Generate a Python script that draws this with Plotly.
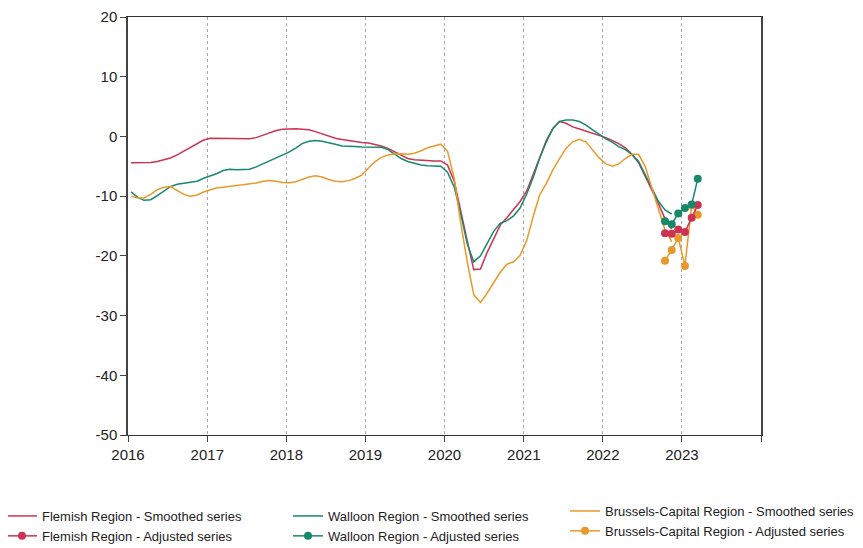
import pandas as pd
import plotly.graph_objects as go

# Monthly smoothed series, Jan 2016 .. Nov 2022 (plotted mid-month)
smooth_months = (pd.date_range("2016-01-01", "2022-11-01", freq="MS") + pd.Timedelta(days=14))

flemish_smoothed = [
    -4.4, -4.4, -4.4, -4.35, -4.2, -3.9, -3.6, -3.1, -2.5, -1.9, -1.2, -0.6,
    -0.3, -0.3, -0.4, -0.4, -0.4, -0.4, -0.4, -0.2, 0.2, 0.6, 1.0, 1.2,
    1.3, 1.3, 1.2, 1.1, 0.8, 0.4, 0.1, -0.3, -0.5, -0.7, -0.8, -1.0,
    -1.1, -1.3, -1.6, -2.0, -2.6, -3.2, -3.7, -3.9, -4.0, -4.0, -4.1, -4.1,
    -4.8, -7.5, -12.5, -17.5, -22.3, -22.2, -19.5, -17.0, -14.8, -13.6, -12.3, -10.9,
    -9.1, -6.2, -3.4, -0.7, 1.35, 2.5, 2.2, 1.6, 1.25, 0.9, 0.5, 0.2,
    -0.2, -0.7, -1.2, -1.9, -3.0, -4.4, -6.6, -8.8, -11.3, -13.8, -15.5,
]
walloon_smoothed = [
    -9.3, -10.2, -10.7, -10.6, -9.9, -9.1, -8.4, -8.0, -7.8, -7.7, -7.5, -7.0,
    -6.6, -6.2, -5.7, -5.5, -5.6, -5.6, -5.5, -5.1, -4.6, -4.1, -3.7, -3.2,
    -2.6, -1.9, -1.2, -0.8, -0.7, -0.8, -1.0, -1.3, -1.6, -1.7, -1.7, -1.75,
    -1.8, -1.8, -1.8, -2.2, -3.0, -3.7, -4.2, -4.5, -4.8, -4.9, -5.0, -5.0,
    -6.0, -8.5, -12.8, -18.0, -21.0, -20.0, -18.0, -15.9, -14.5, -14.1, -13.3, -12.0,
    -9.6, -6.7, -3.7, -0.9, 1.3, 2.5, 2.75, 2.75, 2.5, 1.9, 1.1, 0.3,
    -0.4, -1.0, -1.7, -2.2, -3.0, -4.2, -6.3, -8.5, -10.9, -12.3, -13.0,
]
brussels_smoothed = [
    -10.0, -10.3, -10.3, -9.7, -8.9, -8.5, -8.4, -9.0, -9.7, -10.0, -9.8, -9.3,
    -8.9, -8.6, -8.5, -8.3, -8.2, -8.1, -8.0, -7.8, -7.5, -7.4, -7.5, -7.7,
    -7.75, -7.6, -7.2, -6.8, -6.6, -6.8, -7.2, -7.5, -7.6, -7.4, -7.0, -6.5,
    -5.3, -4.2, -3.5, -3.1, -2.95, -2.9, -3.0, -2.8, -2.4, -1.9, -1.6, -1.3,
    -2.5, -7.0, -14.3, -21.0, -26.5, -27.8, -26.3, -24.6, -22.7, -21.4, -21.0, -19.9,
    -17.4, -13.2, -9.8, -7.9, -5.6, -3.7, -2.0, -0.9, -0.5, -0.9, -2.3, -3.6,
    -4.6, -5.0, -4.6, -3.7, -3.0, -3.0, -5.0, -8.6, -12.5, -15.7, -17.6,
]

# Adjusted series, Oct 2022 .. Mar 2023 (plotted mid-month)
adj_months = (pd.date_range("2022-10-01", "2023-03-01", freq="MS") + pd.Timedelta(days=14))
flemish_adjusted = [-16.2, -16.3, -15.6, -16.0, -13.6, -11.5]
walloon_adjusted = [-14.2, -14.7, -12.9, -12.0, -11.4, -7.1]
brussels_adjusted = [-20.8, -19.0, -17.0, -21.7, -11.5, -13.1]

year_ticks = [f"{y}-01-01" for y in range(2016, 2025)]
year_labels = [str(y) for y in range(2016, 2024)] + [""]
y_ticks = [20, 10, 0, -10, -20, -30, -40, -50]
y_labels = ["20", "10", "0", "-10", "-20", "-30", "-40", "-50"]

RED = "#CC3352"
GREEN = "#17896A"
ORANGE = "#E9992A"

fig = go.Figure()
fig.add_trace(go.Scatter(x=smooth_months, y=flemish_smoothed, mode="lines",
                         line=dict(color=RED, width=1.5), legend="legend", legendgroup="fs",
                         name="Flemish Region - Smoothed series"))
fig.add_trace(go.Scatter(x=smooth_months, y=walloon_smoothed, mode="lines",
                         line=dict(color=GREEN, width=1.5), legend="legend2", legendgroup="ws",
                         name="Walloon Region - Smoothed series"))
fig.add_trace(go.Scatter(x=smooth_months, y=brussels_smoothed, mode="lines",
                         line=dict(color=ORANGE, width=1.5), legend="legend3", legendgroup="bs",
                         name="Brussels-Capital Region - Smoothed series"))
fig.add_trace(go.Scatter(x=adj_months, y=brussels_adjusted, mode="lines+markers",
                         line=dict(color=ORANGE, width=1.5), marker=dict(size=8, color=ORANGE),
                         legend="legend3", legendgroup="ba",
                         name="Brussels-Capital Region - Adjusted series"))
fig.add_trace(go.Scatter(x=adj_months, y=flemish_adjusted, mode="lines+markers",
                         line=dict(color=RED, width=1.5), marker=dict(size=8, color=RED),
                         legend="legend", legendgroup="fa",
                         name="Flemish Region - Adjusted series"))
fig.add_trace(go.Scatter(x=adj_months, y=walloon_adjusted, mode="lines+markers",
                         line=dict(color=GREEN, width=1.5), marker=dict(size=8, color=GREEN),
                         legend="legend2", legendgroup="wa",
                         name="Walloon Region - Adjusted series"))

# figure coordinates (the page adds an 8px body margin)
FIG_W, FIG_H = 855, 540
PLOT_L, PLOT_R, PLOT_T, PLOT_B = 120, 753, 9, 427
PW, PH = PLOT_R - PLOT_L, PLOT_B - PLOT_T


def px_x(px):
    return (px - PLOT_L) / PW


def px_y(py):
    return (PLOT_B - py) / PH


legend_font = dict(family="Liberation Sans, Arial, sans-serif", size=13, color="#222")
common = dict(orientation="v", yanchor="top", traceorder="normal",
              bgcolor="rgba(0,0,0,0)", font=legend_font, tracegroupgap=5)

fig.update_layout(
    width=FIG_W, height=FIG_H,
    margin=dict(l=PLOT_L, r=FIG_W - PLOT_R, t=PLOT_T, b=FIG_H - PLOT_B, autoexpand=False),
    paper_bgcolor="white", plot_bgcolor="white",
    font=dict(family="Liberation Sans, Arial, sans-serif", size=15, color="#222"),
    showlegend=True,
    legend=dict(x=px_x(-6), xanchor="left", y=px_y(493), **common),
    legend2=dict(x=px_x(280), xanchor="left", y=px_y(493), **common),
    legend3=dict(x=px_x(852), xanchor="right", y=px_y(488), **common),
    xaxis=dict(
        type="date", range=["2016-01-01", "2024-01-01"],
        tickvals=year_ticks, ticktext=year_labels, automargin=False,
        ticks="outside", ticklen=6, tickcolor="#444",
        showline=True, linecolor="#333", linewidth=1, mirror=True,
        showgrid=True, gridcolor="#AAAAAA", griddash="dot", gridwidth=1,
        zeroline=False,
    ),
    yaxis=dict(
        range=[-50, 20], tickvals=y_ticks, ticktext=y_labels, automargin=False,
        ticks="outside", ticklen=6, tickcolor="#444",
        showline=True, linecolor="#444", linewidth=1.5, mirror=True,
        showgrid=False, zeroline=False,
    ),
)

fig.write_html("out.html")
